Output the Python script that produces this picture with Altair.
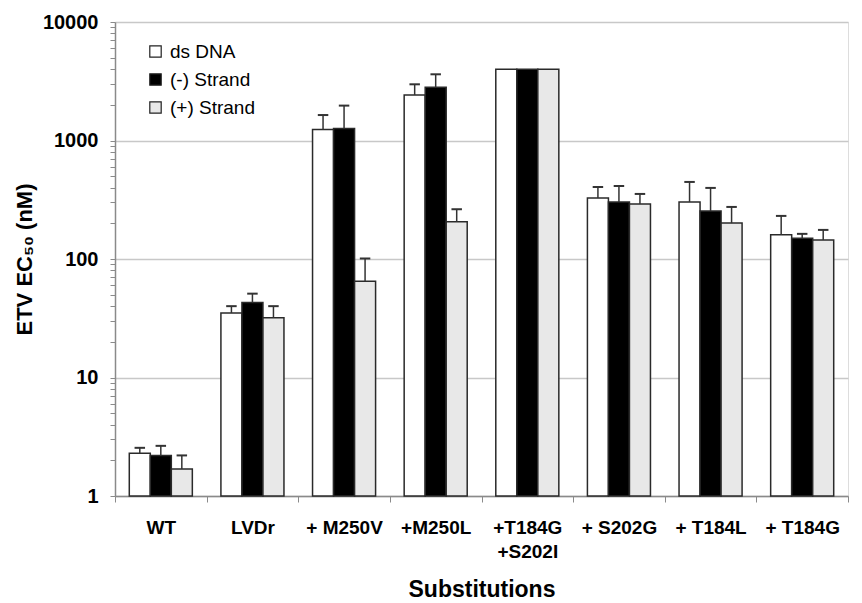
import altair as alt
import pandas as pd

categories = ["WT", "LVDr", "+ M250V", "+M250L", "+T184G\n+S202I", "+ S202G", "+ T184L", "+ T184G"]
series = ["ds DNA", "(-) Strand", "(+) Strand"]
colors = ["#ffffff", "#000000", "#e8e8e8"]

ds_vals = [2.3, 35, 1240, 2420, 4000, 327, 303, 160]
ds_err = [2.55, 40, 1640, 2980, None, 405, 447, 231]
minus_vals = [2.2, 43, 1260, 2810, 4000, 303, 254, 150]
minus_err = [2.65, 51, 1970, 3620, None, 413, 398, 163]
plus_vals = [1.69, 32, 65, 206, 4000, 291, 201, 145]
plus_err = [2.2, 40, 101, 263, None, 354, 275, 176]

major_ticks = [1, 10, 100, 1000, 10000]
minor_mult = [1, 2, 3, 4, 5, 6, 7, 8, 9]

rows = []
for s, vals, errs in [(series[0], ds_vals, ds_err), (series[1], minus_vals, minus_err), (series[2], plus_vals, plus_err)]:
    for c, v, e in zip(categories, vals, errs):
        rows.append({"cat": c, "series": s, "value": v, "err": e, "base": 1})
df = pd.DataFrame(rows)

tick_values = [m * d for d in major_ticks[:-1] for m in minor_mult] + [major_ticks[-1]]

FONT = "Liberation Sans"
W, H = 733, 474

x_enc = alt.X("cat:N", sort=categories,
              scale=alt.Scale(paddingInner=0, paddingOuter=0),
              axis=alt.Axis(title="Substitutions", labelAngle=0, ticks=True,
                            tickBand="extent", tickSize=6, tickColor="#8a8a8a", tickWidth=1,
                            labelExpr="split(datum.label, '\\n')",
                            labelFont=FONT, labelFontSize=19, labelFontWeight="bold",
                            labelColor="black", labelPadding=16, labelLineHeight=24,
                            titleFont=FONT, titleFontSize=23, titleFontWeight="bold",
                            titleColor="black", titlePadding=17,
                            domainColor="#8a8a8a", domainWidth=1.5))
xoff = alt.XOffset("series:N", sort=series,
                   scale=alt.Scale(paddingInner=0, paddingOuter=0.68))

y_scale = alt.Scale(type="log", domain=[1, 10000], nice=False)

is_major = "datum.value == 1 || datum.value == 10 || datum.value == 100 || datum.value == 1000 || datum.value == 10000"

bars = alt.Chart(df).mark_bar(stroke="#2a2a2a", strokeWidth=1.5).encode(
    x=x_enc,
    xOffset=xoff,
    y=alt.Y("value:Q", scale=y_scale, stack=None,
            axis=alt.Axis(title="ETV EC₅₀ (nM)", values=tick_values,
                          labelExpr="(" + is_major + ") ? format(datum.value, 'd') : ''",
                          labelOverlap=False, labelFlush=False,
                          labelFont=FONT, labelFontSize=20, labelFontWeight="bold",
                          labelColor="black", labelPadding=12,
                          tickSize=5, tickColor="#8a8a8a", tickWidth=1,
                          grid=True, gridColor="#c8c8c8", gridWidth=1.5,
                          gridOpacity={"condition": {"test": is_major, "value": 1}, "value": 0},
                          titleFont=FONT, titleFontSize=22, titleFontWeight="bold",
                          titleColor="black", titlePadding=6,
                          domainColor="#8a8a8a", domainWidth=1.5)),
    y2=alt.Y2("base:Q"),
    fill=alt.Fill("series:N", sort=series,
                  scale=alt.Scale(domain=series, range=colors),
                  legend=alt.Legend(title=None, orient="none", legendX=31, legendY=20,
                                    symbolType="square", symbolSize=130,
                                    symbolStrokeColor="#222222", symbolStrokeWidth=1.2,
                                    labelFont=FONT, labelFontSize=19, labelColor="black",
                                    labelOffset=5, rowPadding=8, padding=0)),
)

err_df = alt.Chart(df).transform_filter("isValid(datum.err)")

err_rule = err_df.mark_rule(color="#333333", strokeWidth=1.5).encode(
    x=alt.X("cat:N", sort=categories),
    xOffset=alt.XOffset("series:N", sort=series),
    y=alt.Y("value:Q", scale=y_scale),
    y2="err:Q",
)
err_cap = err_df.mark_point(shape="M-1,0L1,0", size=110, color="#333333",
                            strokeWidth=2, filled=False, opacity=1).encode(
    x=alt.X("cat:N", sort=categories),
    xOffset=alt.XOffset("series:N", sort=series),
    y=alt.Y("err:Q", scale=y_scale),
)

chart = alt.layer(bars, err_rule, err_cap).properties(
    width=W, height=H,
    autosize=alt.AutoSizeParams(type="none"),
    padding={"left": 107, "top": 14, "right": 6, "bottom": 108},
).configure_view(stroke=None).configure(background="white")

chart.save("out.html", embed_options={"renderer": "svg", "actions": False})
